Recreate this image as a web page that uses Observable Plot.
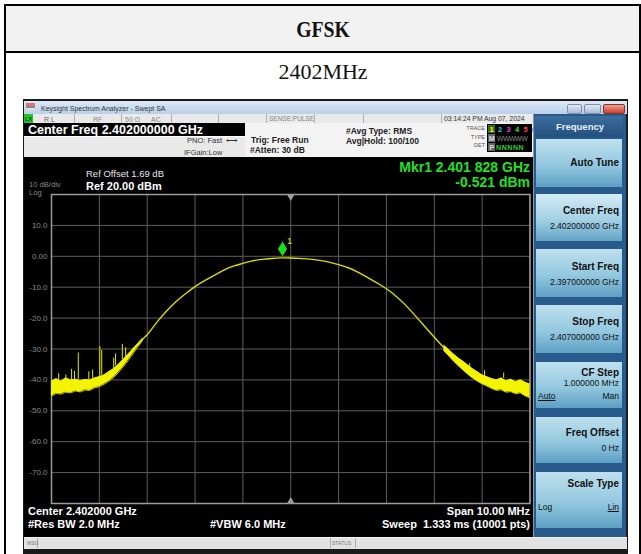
<!DOCTYPE html>
<html><head><meta charset="utf-8">
<script src="https://cdn.jsdelivr.net/npm/d3@7"></script>
<script src="https://cdn.jsdelivr.net/npm/@observablehq/plot@0.6"></script>
<style>
body{margin:0;background:#fff;}
#page{position:relative;width:641px;height:554px;overflow:hidden;font-family:"Liberation Sans",Arial,sans-serif;}
.a{position:absolute;white-space:nowrap;line-height:1;}
.btn{position:absolute;left:536px;width:86px;background:linear-gradient(#bfe0ee,#93c8df 55%,#5e9fc3);}
.bl{position:absolute;right:3px;font-weight:bold;font-size:10px;color:#111;white-space:nowrap;line-height:1;}
.bv{position:absolute;right:3px;font-size:8.5px;color:#111;white-space:nowrap;line-height:1;}
</style></head><body>
<div id="page">
  <!-- table -->
  <div class="a" style="left:4px;top:4px;width:633px;height:560px;border:2px solid #000;"></div>
  <div class="a" style="left:6px;top:6px;width:633px;height:45px;background:#f2f2f2;border-bottom:2px solid #000;"></div>
  <div class="a" style="left:323px;top:29px;transform:translate(-50%,-50%) scaleX(0.82);font-family:'Liberation Serif','DejaVu Serif',serif;font-weight:bold;font-size:24px;color:#111;">GFSK</div>
  <div class="a" style="left:323px;top:72px;transform:translate(-50%,-50%);font-family:'Liberation Serif','DejaVu Serif',serif;font-size:22px;color:#111;">2402MHz</div>

  <!-- analyzer frame -->
  <div class="a" style="left:23px;top:99px;width:605px;height:460px;background:#1a1a1a;"></div>
  <div class="a" style="left:24px;top:101px;width:603px;height:13px;background:linear-gradient(#dbe8f6,#b9d0ea);"></div>
  <div class="a" style="left:26px;top:103px;width:9px;height:8px;background:linear-gradient(#e07070 0 40%,#888 40% 60%,#ddd 60%);"></div>
  <div class="a" style="left:41px;top:107.5px;transform:translateY(-50%);font-size:7px;color:#333;">Keysight Spectrum Analyzer - Swept SA</div>
  <div class="a" style="left:567px;top:104px;width:13px;height:8px;background:linear-gradient(#e4ecf6,#a9bcd6);border:1px solid #7d8fa8;border-radius:2px;"></div>
  <div class="a" style="left:584px;top:104px;width:15px;height:8px;background:linear-gradient(#e4ecf6,#a9bcd6);border:1px solid #7d8fa8;border-radius:2px;"></div>
  <div class="a" style="left:603px;top:104px;width:20px;height:8px;background:linear-gradient(#f0a090,#c8402c);border:1px solid #8a2c20;border-radius:2px;"></div>

  <!-- status row -->
  <div class="a" style="left:24px;top:114px;width:509px;height:8.5px;background:#e9e9e9;border-bottom:1px solid #bdbdbd;"></div>
  <div class="a" style="left:24px;top:114px;width:9px;height:8.5px;background:#22c322;"></div>
  <div class="a" style="left:25px;top:118.5px;transform:translateY(-50%);font-size:6px;color:#113;">LX</div>
  <div class="a" style="left:74px;top:114px;width:1px;height:9px;background:#b0b0b0;"></div>
  <div class="a" style="left:121px;top:114px;width:1px;height:9px;background:#b0b0b0;"></div>
  <div class="a" style="left:171px;top:114px;width:1px;height:9px;background:#b0b0b0;"></div>
  <div class="a" style="left:218px;top:114px;width:1px;height:9px;background:#b0b0b0;"></div>
  <div class="a" style="left:266px;top:114px;width:1px;height:9px;background:#b0b0b0;"></div>
  <div class="a" style="left:314px;top:114px;width:1px;height:9px;background:#b0b0b0;"></div>
  <div class="a" style="left:363px;top:114px;width:1px;height:9px;background:#b0b0b0;"></div>
  <div class="a" style="left:441px;top:114px;width:1px;height:9px;background:#b0b0b0;"></div>
  <div class="a" style="left:44px;top:118.5px;transform:translateY(-50%);font-size:7px;color:#666;">R L</div>
  <div class="a" style="left:93px;top:118.5px;transform:translateY(-50%);font-size:7px;color:#888;">RF</div>
  <div class="a" style="left:125px;top:118.5px;transform:translateY(-50%);font-size:7px;color:#888;">50 Ω</div>
  <div class="a" style="left:151px;top:118.5px;transform:translateY(-50%);font-size:7px;color:#888;">AC</div>
  <div class="a" style="left:269px;top:118.5px;transform:translateY(-50%);font-size:6.5px;color:#888;">SENSE:PULSE</div>
  <div class="a" style="left:444px;top:118.5px;transform:translateY(-50%);font-size:6.8px;color:#333;">03:14:24 PM Aug 07, 2024</div>

  <!-- settings header -->
  <div class="a" style="left:24px;top:123px;width:509px;height:34px;background:#f3f3f3;"></div>
  <div class="a" style="left:24px;top:136px;width:221px;height:21px;background:#e9e9e9;border-top:1px solid #fff;"></div>
  <div class="a" style="left:24px;top:123px;width:221px;height:13px;background:#000;"></div>
  <div class="a" style="left:28px;top:129.8px;transform:translateY(-50%);font-size:12.5px;font-weight:bold;color:#fff;">Center Freq 2.402000000 GHz</div>
  <div class="a" style="left:187px;top:141px;transform:translateY(-50%);font-size:7.5px;color:#333;">PNO: Fast&nbsp; ⟷</div>
  <div class="a" style="left:184px;top:152.5px;transform:translateY(-50%);font-size:7.5px;color:#333;">IFGain:Low</div>
  <div class="a" style="left:251px;top:140px;transform:translateY(-50%);font-size:8.5px;font-weight:bold;color:#222;">Trig: Free Run</div>
  <div class="a" style="left:250px;top:150px;transform:translateY(-50%);font-size:8.5px;font-weight:bold;color:#222;">#Atten: 30 dB</div>
  <div class="a" style="left:346px;top:131px;transform:translateY(-50%);font-size:8.5px;font-weight:bold;color:#222;">#Avg Type: RMS</div>
  <div class="a" style="left:346px;top:140.5px;transform:translateY(-50%);font-size:8.5px;font-weight:bold;color:#222;">Avg|Hold: 100/100</div>
  <div class="a" style="right:156px;top:129px;transform:translateY(-50%);font-size:5.5px;color:#555;">TRACE</div>
  <div class="a" style="right:156px;top:137.5px;transform:translateY(-50%);font-size:5.5px;color:#555;">TYPE</div>
  <div class="a" style="right:156px;top:145.5px;transform:translateY(-50%);font-size:5.5px;color:#555;">DET</div>
  <div class="a" style="left:487px;top:124px;width:45px;height:28px;background:#000;"></div>
  <div class="a" style="left:488px;top:125px;width:7px;height:8px;background:#3a6a1a;"></div>
  <div class="a" style="left:489.5px;top:129.5px;transform:translateY(-50%);font-size:7.5px;font-weight:bold;letter-spacing:1.1px;"><span style="color:#ffff00">1</span> <span style="color:#00d8d8">2</span> <span style="color:#e040e0">3</span> <span style="color:#30e030">4</span> <span style="color:#ff5050">5</span> <span style="color:#5070ff">6</span></div>
  <div class="a" style="left:488px;top:134px;width:7px;height:8px;background:#666;"></div>
  <div class="a" style="left:489px;top:138px;transform:translateY(-50%);font-size:7px;font-weight:bold;color:#ddd;">M <span style="color:#888;font-weight:normal;letter-spacing:-0.5px">WWWWW</span></div>
  <div class="a" style="left:488px;top:142.5px;width:7px;height:8px;background:#666;"></div>
  <div class="a" style="left:489.5px;top:146.5px;transform:translateY(-50%);font-size:7px;font-weight:bold;color:#ddd;">P <span style="color:#30d030;letter-spacing:0.6px">NNNNN</span></div>

  <!-- black screen -->
  <div class="a" style="left:24px;top:157px;width:509px;height:380px;background:#000;"></div>
  <div id="chart" class="a" style="left:24px;top:157px;"></div>
  <div class="a" style="left:86px;top:174px;transform:translateY(-50%);font-size:9.5px;color:#e8e8e8;">Ref Offset 1.69 dB</div>
  <div class="a" style="left:86px;top:185.5px;transform:translateY(-50%);font-size:11px;font-weight:bold;color:#fff;">Ref 20.00 dBm</div>
  <div class="a" style="left:29px;top:185.3px;transform:translateY(-50%);font-size:7.6px;color:#8a8a8a;">10 dB/div</div>
  <div class="a" style="left:29px;top:193.4px;transform:translateY(-50%);font-size:7.6px;color:#8a8a8a;">Log</div>
  <div class="a" style="right:111px;top:167px;transform:translateY(-50%);font-size:14px;font-weight:bold;color:#22e022;">Mkr1 2.401 828 GHz</div>
  <div class="a" style="right:111px;top:182px;transform:translateY(-50%);font-size:14px;font-weight:bold;color:#22e022;">-0.521 dBm</div>
  <div class="a" style="left:28px;top:511px;transform:translateY(-50%);font-size:11px;font-weight:bold;color:#fff;">Center 2.402000 GHz</div>
  <div class="a" style="left:28px;top:524px;transform:translateY(-50%);font-size:11px;font-weight:bold;color:#fff;">#Res BW 2.0 MHz</div>
  <div class="a" style="left:210px;top:524px;transform:translateY(-50%);font-size:11px;font-weight:bold;color:#fff;">#VBW 6.0 MHz</div>
  <div class="a" style="right:111px;top:511px;transform:translateY(-50%);font-size:11px;font-weight:bold;color:#fff;">Span 10.00 MHz</div>
  <div class="a" style="right:111px;top:524px;transform:translateY(-50%);font-size:11px;font-weight:bold;color:#fff;">Sweep&nbsp; 1.333 ms (10001 pts)</div>

  <!-- MSG bar -->
  <div class="a" style="left:24px;top:537px;width:603px;height:11px;background:#e2e2e2;border-top:1px solid #f4f4f4;"></div>
  <div class="a" style="left:37px;top:538px;width:1px;height:10px;background:#b0b0b0;"></div>
  <div class="a" style="left:330px;top:538px;width:1px;height:10px;background:#b0b0b0;"></div>
  <div class="a" style="left:355px;top:538px;width:1px;height:10px;background:#b0b0b0;"></div>
  <div class="a" style="left:27px;top:543px;transform:translateY(-50%);font-size:5px;color:#777;">MSG</div>
  <div class="a" style="left:332px;top:543px;transform:translateY(-50%);font-size:5px;color:#777;">STATUS</div>

  <!-- right panel -->
  <div class="a" style="left:533px;top:114px;width:92px;height:423px;background:#285b8c;border-left:1px solid #8a9aaa;"></div>
  <div class="a" style="left:535px;top:116px;width:88px;height:21px;background:linear-gradient(#3c6e9e,#234f7d);"></div>
  <div class="a" style="left:580px;top:127px;transform:translate(-50%,-50%);font-size:9.5px;font-weight:bold;color:#e4f0fa;">Frequency</div>

  <div class="btn" style="top:139px;height:48px;"><div class="bl" style="top:19px;">Auto Tune</div></div>
  <div class="btn" style="top:194px;height:47px;background:linear-gradient(#d4ecf6,#a2d0e4 55%,#64a4c6);"><div class="bl" style="top:12px;">Center Freq</div><div class="bv" style="top:28px;">2.402000000 GHz</div></div>
  <div class="btn" style="top:249px;height:48px;"><div class="bl" style="top:13px;">Start Freq</div><div class="bv" style="top:28.5px;">2.397000000 GHz</div></div>
  <div class="btn" style="top:305px;height:48px;"><div class="bl" style="top:12px;">Stop Freq</div><div class="bv" style="top:28px;">2.407000000 GHz</div></div>
  <div class="btn" style="top:362px;height:46px;"><div class="bl" style="top:6px;">CF Step</div><div class="bv" style="top:17px;">1.000000 MHz</div>
    <div class="bv" style="left:2px;right:auto;top:30px;text-decoration:underline;">Auto</div><div class="bv" style="top:30px;">Man</div></div>
  <div class="btn" style="top:417px;height:46px;"><div class="bl" style="top:11px;">Freq Offset</div><div class="bv" style="top:27px;">0 Hz</div></div>
  <div class="btn" style="top:472px;height:56px;"><div class="bl" style="top:7px;">Scale Type</div>
    <div class="bv" style="left:2px;right:auto;top:31px;">Log</div><div class="bv" style="top:31px;text-decoration:underline;">Lin</div></div>
</div>

<script>
// ---- axis / grid definitions ----
const spanStartMHz = 2397;
const spanStopMHz = 2407;
const centerMHz = 2402;
const refLevelDbm = 20;
const bottomLevelDbm = -80;
const xGridMHz = [2397, 2398, 2399, 2400, 2401, 2402, 2403, 2404, 2405, 2406, 2407];
const yGridDbm = [20, 10, 0, -10, -20, -30, -40, -50, -60, -70, -80];
const yTickValues = [10, 0, -10, -20, -30, -40, -50, -60, -70];
const yTickLabels = ["10.0", "0.00", "-10.0", "-20.0", "-30.0", "-40.0", "-50.0", "-60.0", "-70.0"];

// ---- smooth part of trace ----
const traceFreqMHz = [2398.8, 2398.9, 2399.0, 2399.2, 2399.4, 2399.6, 2399.8, 2400.0, 2400.2, 2400.4, 2400.6, 2400.8,
  2401.0, 2401.2, 2401.4, 2401.6, 2401.8, 2402.0, 2402.2, 2402.4, 2402.6, 2402.8, 2403.0, 2403.2, 2403.4, 2403.6,
  2403.8, 2404.0, 2404.2, 2404.4, 2404.6, 2404.8, 2405.0, 2405.2];
const traceDbm = [-28.9, -26.9, -25.4, -21.4, -17.8, -14.7, -12.1, -9.8, -7.9, -6.2, -4.5, -3.2,
  -2.3, -1.5, -1.0, -0.7, -0.52, -0.55, -0.7, -0.9, -1.3, -1.9, -2.7, -3.7, -5.1, -6.8,
  -8.6, -10.5, -12.9, -15.8, -19.2, -22.7, -26.2, -29.6];

// ---- noisy skirt bands (low / high envelope) ----
const bandLeftFreqMHz = [2397.0, 2397.1, 2397.2, 2397.3, 2397.4, 2397.5, 2397.6, 2397.7, 2397.8, 2397.9,
  2398.0, 2398.1, 2398.2, 2398.3, 2398.4, 2398.5, 2398.6, 2398.7, 2398.8, 2398.9];
const bandLeftLoDbm = [-45.2, -44.4, -44.6, -44.0, -44.2, -43.6, -43.9, -43.3, -43.4, -42.6,
  -42.2, -41.4, -40.4, -39.2, -37.6, -35.8, -33.8, -31.6, -29.4, -27.3];
const bandLeftHiDbm = [-40.4, -39.6, -40.4, -39.4, -40.0, -39.8, -40.2, -39.9, -40.0, -39.4,
  -39.0, -38.4, -37.4, -36.4, -35.0, -33.4, -31.8, -30.0, -28.4, -26.6];
const bandRightFreqMHz = [2405.2, 2405.3, 2405.4, 2405.5, 2405.6, 2405.7, 2405.8, 2405.9, 2406.0, 2406.1,
  2406.2, 2406.3, 2406.4, 2406.5, 2406.6, 2406.7, 2406.8, 2406.9, 2407.0];
const bandRightLoDbm = [-30.6, -32.2, -33.9, -35.4, -36.8, -38.2, -39.4, -40.4, -41.3, -42.0,
  -42.8, -43.4, -43.2, -44.0, -43.8, -44.5, -44.2, -45.2, -45.8];
const bandRightHiDbm = [-28.8, -30.2, -31.6, -32.9, -34.0, -35.2, -36.4, -37.4, -38.4, -39.0,
  -39.6, -40.0, -39.4, -40.3, -39.8, -40.6, -40.0, -40.8, -41.4];

// ---- spurious spikes on the skirts ----
const spurFreqMHz = [2397.15, 2397.30, 2397.42, 2397.48, 2397.56, 2397.78, 2397.86, 2398.01, 2398.05, 2398.30, 2398.34, 2398.48, 2398.55, 2405.74, 2406.05, 2406.45];
const spurBaseDbm = [-40, -40, -40, -40, -40, -40, -39.5, -39, -38.5, -36.4, -35.5, -33.4, -32.5, -36, -39, -39.5];
const spurTopDbm = [-38.0, -38.4, -36.6, -37.2, -31.3, -37.4, -36.8, -29.2, -30.5, -33.0, -31.6, -28.5, -29.6, -34.8, -37.0, -37.8];

// ---- marker ----
const markerFreqMHz = 2401.828;
const markerDbm = -0.521;
const markerLabel = "1";

// build tables
const trace = traceFreqMHz.map((f, i) => ({f, db: traceDbm[i]}));
const bandL = bandLeftFreqMHz.map((f, i) => ({f, lo: bandLeftLoDbm[i], hi: bandLeftHiDbm[i]}));
const bandR = bandRightFreqMHz.map((f, i) => ({f, lo: bandRightLoDbm[i], hi: bandRightHiDbm[i]}));
const spurs = spurFreqMHz.map((f, i) => ({f, base: spurBaseDbm[i], top: spurTopDbm[i]}));
const marker = [{f: markerFreqMHz, db: markerDbm}];

const tallDiamond = {
  draw(ctx, size) {
    const r = Math.sqrt(size / Math.PI);
    ctx.moveTo(0, -r * 1.6);
    ctx.lineTo(r, 0);
    ctx.lineTo(0, r * 1.6);
    ctx.lineTo(-r, 0);
    ctx.closePath();
  }
};

const yellow = "#f4f400";
const chart = Plot.plot({
  width: 509, height: 380,
  marginLeft: 27, marginRight: 3.5, marginTop: 37, marginBottom: 34,
  style: {background: "#000", color: "#8c8c8c", fontSize: "8px", fontFamily: "Liberation Sans, Arial, sans-serif", overflow: "visible"},
  x: {domain: [spanStartMHz, spanStopMHz], axis: null},
  y: {domain: [bottomLevelDbm, refLevelDbm], axis: null},
  marks: [
    Plot.gridX(xGridMHz, {stroke: "#5e5e5e", strokeOpacity: 1}),
    Plot.gridY(yGridDbm, {stroke: "#5e5e5e", strokeOpacity: 1}),
    Plot.frame({stroke: "#9c9c9c", strokeWidth: 1.5}),
    Plot.axisY(yTickValues, {tickSize: 0, tickPadding: 4, fill: "#8a8a8a",
      tickFormat: d => yTickLabels[yTickValues.indexOf(d)], label: null}),
    Plot.areaY(bandL, {x: "f", y1: "lo", y2: "hi", fill: yellow}),
    Plot.areaY(bandR, {x: "f", y1: "lo", y2: "hi", fill: yellow}),
    Plot.line(bandL, {x: "f", y: "lo", stroke: yellow, strokeWidth: 0.8}),
    Plot.line(bandL, {x: "f", y: "hi", stroke: yellow, strokeWidth: 0.8}),
    Plot.line(bandR, {x: "f", y: "lo", stroke: yellow, strokeWidth: 0.8}),
    Plot.line(bandR, {x: "f", y: "hi", stroke: yellow, strokeWidth: 0.8}),
    Plot.ruleX(spurs, {x: "f", y1: "base", y2: "top", stroke: "#e8e800", strokeWidth: 1}),
    Plot.line(trace, {x: "f", y: "db", stroke: "#dcdc00", strokeWidth: 1.4, curve: "catmull-rom"}),
    Plot.dot([centerMHz], {x: d => d, y: refLevelDbm, symbol: "triangle", r: 2.6, fill: "#9c9c9c", rotate: 180, dy: 2.5}),
    Plot.dot([centerMHz], {x: d => d, y: bottomLevelDbm, symbol: "triangle", r: 2.6, fill: "#9c9c9c", dy: -2.5}),
    Plot.dot(marker, {x: "f", y: "db", symbol: tallDiamond, r: 4.6, fill: "#18e018", dy: -9}),
    Plot.text(marker, {x: "f", y: "db", text: () => markerLabel, fill: "#e8e800", fontSize: 9, dx: 7, dy: -17})
  ]
});
document.getElementById("chart").appendChild(chart);
</script>
</body></html>
